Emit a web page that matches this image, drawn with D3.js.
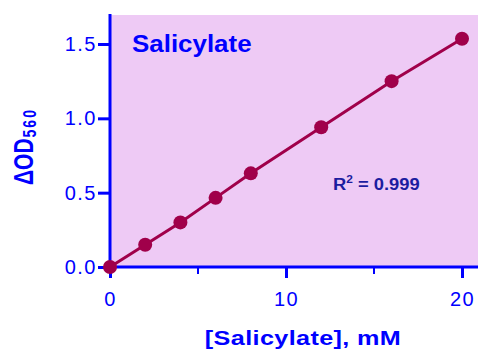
<!DOCTYPE html>
<html>
<head>
<meta charset="utf-8">
<script src="https://cdn.jsdelivr.net/npm/d3@7"></script>
<style>
body { margin: 0; background: #fff; }
text { font-family: "Liberation Sans", Arial, sans-serif; }
</style>
</head>
<body>
<div id="chart"></div>
<script>
var conc = [0, 2, 4, 6, 8, 12, 16, 20];
var od = [0, 0.15, 0.30, 0.465, 0.63, 0.94, 1.25, 1.535];
var xTicks = [0, 10, 20];
var xMinor = [5, 15];
var yTicks = [0, 0.5, 1.0, 1.5];

var width = 478, height = 350;
var plotL = 110, plotT = 15, plotR = 478, plotB = 267;

var svg = d3.select("#chart").append("svg")
    .attr("width", width)
    .attr("height", height);

var x = d3.scaleLinear().domain([0, 20]).range([plotL, 462]);
var y = d3.scaleLinear().domain([0, 1.5]).range([plotB, 44]);

svg.append("rect")
    .attr("x", plotL).attr("y", plotT)
    .attr("width", plotR - plotL).attr("height", plotB - plotT)
    .attr("fill", "#eecaf5");

// axes
var blue = "#0000ff";
var yAxis = svg.append("g")
    .attr("transform", "translate(" + plotL + ",0)")
    .call(d3.axisLeft(y).tickValues(yTicks).tickFormat(d3.format(".1f")).tickSize(12).tickPadding(1));
yAxis.select(".domain").remove();

var xAxis = svg.append("g")
    .attr("transform", "translate(0," + plotB + ")")
    .call(d3.axisBottom(x).tickValues(xTicks).tickFormat(d3.format("d")).tickSize(11).tickPadding(14));
xAxis.select(".domain").remove();

svg.append("line").attr("x1", plotL).attr("x2", plotL).attr("y1", plotT - 1).attr("y2", plotB)
    .attr("stroke", blue).attr("stroke-width", 3);
svg.append("line").attr("x1", plotL).attr("x2", plotR).attr("y1", plotB).attr("y2", plotB)
    .attr("stroke", blue).attr("stroke-width", 3);
svg.selectAll(".minor").data(xMinor).enter().append("line")
    .attr("x1", function(d){return x(d);}).attr("x2", function(d){return x(d);})
    .attr("y1", plotB).attr("y2", plotB + 7)
    .attr("stroke", blue).attr("stroke-width", 2);

svg.selectAll(".tick line").attr("stroke", blue).attr("stroke-width", 3);
svg.selectAll(".tick text").attr("fill", blue)
    .style("font-size", "20px")
    .style("letter-spacing", "1.5px")
    .style("font-family", "'Liberation Sans', Arial, sans-serif");

// data line + points
var line = d3.line()
    .x(function(d, i){return x(conc[i]);})
    .y(function(d){return y(d);});
svg.append("path").datum(od)
    .attr("d", line)
    .attr("fill", "none")
    .attr("stroke", "#a0004a")
    .attr("stroke-width", 3);
svg.selectAll(".pt").data(od).enter().append("circle")
    .attr("cx", function(d, i){return x(conc[i]);})
    .attr("cy", function(d){return y(d);})
    .attr("r", 7)
    .attr("fill", "#a0004a");

// labels
svg.append("text")
    .attr("transform", "translate(132,52) scale(1.08,1)")
    .attr("fill", blue).style("font-size", "24px").style("font-weight", "bold")
    .text("Salicylate");

var r2 = svg.append("text")
    .attr("transform", "translate(333,190) scale(1.08,1)")
    .attr("fill", "#1c1ca0").style("font-size", "17px").style("font-weight", "bold");
r2.append("tspan").text("R");
r2.append("tspan").attr("dy", -7).style("font-size", "11px").text("2");
r2.append("tspan").attr("dy", 7).text(" = 0.999");

svg.append("text")
    .attr("transform", "translate(303,345) scale(1.26,1)")
    .attr("text-anchor", "middle")
    .attr("fill", blue).style("font-size", "20px").style("font-weight", "bold")
    .style("letter-spacing", "0.3px")
    .text("[Salicylate], mM");

var yl = svg.append("text")
    .attr("transform", "translate(33,185) scale(1.35,1) rotate(-90)")
    .attr("fill", blue).style("font-size", "21px").style("font-weight", "bold");
yl.append("tspan").text("\u0394OD");
yl.append("tspan").attr("dy", 2).attr("dx", 1).style("font-size", "14px")
    .style("letter-spacing", "2px").text("560");
</script>
</body>
</html>
